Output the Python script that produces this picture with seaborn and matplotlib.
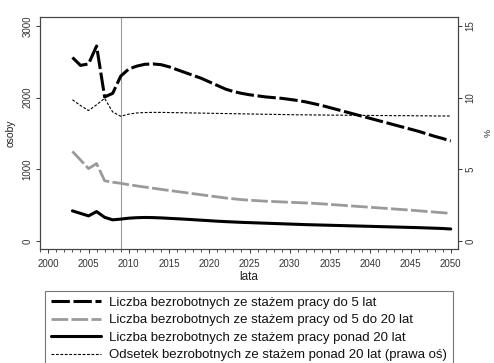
import numpy as np
import pandas as pd
import matplotlib
matplotlib.use("Agg")
import matplotlib.pyplot as plt
import seaborn as sns

years = list(range(2003, 2051))

staz_do5 = [2560, 2450, 2470, 2720, 2010, 2060, 2300, 2400, 2440, 2465, 2470, 2460,
            2430, 2390, 2350, 2310, 2270, 2220, 2170, 2120, 2085, 2060, 2040, 2025,
            2010, 2000, 1990, 1975, 1960, 1940, 1915, 1890, 1860, 1830, 1800, 1770,
            1740, 1710, 1680, 1650, 1620, 1590, 1560, 1530, 1495, 1460, 1430, 1395]

staz_5do20 = [1250, 1130, 1010, 1080, 840, 820, 805, 785, 768, 752, 736, 720,
              705, 690, 675, 660, 645, 630, 615, 600, 588, 577, 569, 562,
              555, 550, 545, 540, 535, 530, 525, 518, 510, 502, 494, 486,
              478, 470, 462, 454, 446, 438, 430, 421, 412, 403, 394, 386]

staz_pon20 = [420, 385, 350, 410, 330, 295, 305, 318, 325, 328, 326, 322,
              316, 310, 304, 297, 290, 283, 276, 270, 265, 260, 256, 252,
              248, 244, 240, 236, 232, 228, 225, 222, 219, 216, 213, 210,
              207, 204, 201, 198, 195, 192, 189, 186, 182, 178, 174, 167]

odsetek = [9.85, 9.45, 9.10, 9.50, 9.95, 9.00, 8.70, 8.85, 8.93, 8.96, 8.97, 8.97,
           8.96, 8.95, 8.94, 8.93, 8.92, 8.91, 8.90, 8.89, 8.88, 8.87, 8.86, 8.85,
           8.84, 8.83, 8.82, 8.81, 8.80, 8.80, 8.79, 8.79, 8.78, 8.78, 8.77, 8.77,
           8.76, 8.76, 8.75, 8.75, 8.74, 8.74, 8.74, 8.73, 8.73, 8.72, 8.72, 8.72]

labels = ["Liczba bezrobotnych ze stażem pracy do 5 lat",
          "Liczba bezrobotnych ze stażem pracy od 5 do 20 lat",
          "Liczba bezrobotnych ze stażem pracy ponad 20 lat",
          "Odsetek bezrobotnych ze stażem ponad 20 lat (prawa oś)"]

sns.set_style("ticks")
plt.rcParams['font.family'] = ['Liberation Sans', 'DejaVu Sans']

df = pd.DataFrame({"lata": years, "s1": staz_do5, "s2": staz_5do20,
                   "s3": staz_pon20, "s4": odsetek})

fig = plt.figure(figsize=(4.94, 3.63), dpi=100)
ax = fig.add_axes([40/494, 1-249/363, 418/494, 232/363])
ax2 = ax.twinx()

sns.lineplot(data=df, x="lata", y="s1", ax=ax, color="black", lw=2.2,
             label=labels[0])
sns.lineplot(data=df, x="lata", y="s2", ax=ax, color="#9a9a9a", lw=2.0,
             label=labels[1])
sns.lineplot(data=df, x="lata", y="s3", ax=ax, color="black", lw=2.2,
             label=labels[2])
sns.lineplot(data=df, x="lata", y="s4", ax=ax2, color="black", lw=0.8,
             label=labels[3])

l1, l2, l3 = ax.get_lines()[:3]
l1.set_dashes((6, 1.2))
l2.set_dashes((6, 1.2))
l4 = ax2.get_lines()[0]
l4.set_dashes((2.5, 1.5))

ax.axvline(2009, color="#9a9a9a", lw=0.8, zorder=0)

ax.set_xlim(1998.97, 2050.9)
ax.set_ylim(-112, 3125)
ax2.set_ylim(-112/200, 3125/200)

ax.set_xticks(range(2000, 2051, 5))
ax.set_xticks(range(1999, 2051, 1), minor=True)
ax.set_yticks([0, 1000, 2000, 3000])
ax2.set_yticks([0, 5, 10, 15])

tick_kw = dict(direction="out", length=3, width=0.7, colors="#333333", labelsize=7)
ax.tick_params(axis="x", which="major", pad=4, **tick_kw)
ax.tick_params(axis="y", which="major", pad=2.5, **tick_kw)
ax.tick_params(axis="x", which="minor", direction="out", length=2, width=0.6, colors="#333333")
ax2.tick_params(axis="y", which="major", pad=2.5, **tick_kw)
for t in ax.get_yticklabels():
    t.set_rotation(90)
    t.set_va("center")
for t in ax2.get_yticklabels():
    t.set_rotation(90)
    t.set_va("center")

for a in (ax, ax2):
    for s in a.spines.values():
        s.set_visible(True)
        s.set_color("#444444")
        s.set_linewidth(0.8)

ax.set_xlabel("lata", fontsize=8.5, color="#222222", labelpad=2.0)
ax.set_ylabel("osoby", fontsize=7.5, color="#222222", labelpad=5)
ax2.set_ylabel("%", fontsize=6.5, color="#222222", labelpad=6)

h1, lab1 = ax.get_legend_handles_labels()
h2, lab2 = ax2.get_legend_handles_labels()
if ax.get_legend():
    ax.get_legend().remove()
if ax2.get_legend():
    ax2.get_legend().remove()

leg = fig.legend(h1 + h2, lab1 + lab2, loc="upper left",
                 bbox_to_anchor=(45/494, 1-290.5/363), borderaxespad=0,
                 fontsize=9.5, handlelength=3.8, handletextpad=0.6,
                 labelspacing=0.4, borderpad=0.45, fancybox=False,
                 frameon=True, edgecolor="#555555")
leg.get_frame().set_linewidth(0.8)
for t in leg.get_texts():
    t.set_color("#111111")

fig.savefig("out.png", dpi=100, facecolor="white")
